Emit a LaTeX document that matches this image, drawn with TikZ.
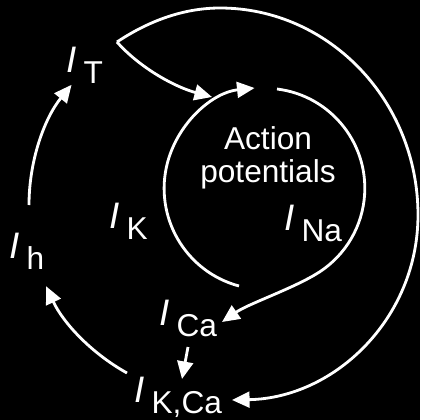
\documentclass[tikz,border=0pt]{standalone}
\usepackage{fontspec}
\setmainfont{Liberation Sans}
\usetikzlibrary{arrows.meta}
\tikzset{
  ciclo/.style={draw=white, line width=1.6pt},
  flecha/.style={ciclo, -{Triangle[length=10pt,width=9pt]}},
  corriente/.style={text=white, inner sep=0pt, anchor=base west,
                    font=\fontsize{18}{18}\selectfont},
  rotulo/.style={text=white, align=center, font=\fontsize{18}{19}\selectfont}
}
\newcommand{\corr}[1]{{\fontsize{21}{21}\selectfont\itshape I}\hspace{4pt}\raisebox{-6.5pt}{#1}}

\begin{document}
\begin{tikzpicture}[x=0.02cm, y=-0.02cm]
  \fill[black] (0,0) rectangle (420,420);
  \useasboundingbox (0,0) rectangle (420,420);

  % -- corrientes --
  \node[corriente] (it)   at (66,72)   {\corr{T}};
  \node[corriente] (ih)   at (9,258)   {\corr{h}};
  \node[corriente] (ik)   at (109,228) {\corr{K}};
  \node[corriente] (ina)  at (284,230) {\corr{Na}};
  \node[corriente] (ica)  at (159,325) {\corr{Ca}};
  \node[corriente] (ikca) at (134,402) {\corr{K,Ca}};
  \node[rotulo]    (ap)   at (268,158) {Action\\potentials};

  % -- extremos de los conectores --
  \coordinate (tpunta)    at (117,42);
  \coordinate (tap)       at (212,97);
  \coordinate (kcaentra)  at (232,400);
  \coordinate (hsale)     at (29,205);
  \coordinate (kcasale)   at (127,373);
  \coordinate (apsale)    at (239,286);
  \coordinate (apsigue)   at (277,89);
  \coordinate (caentra)   at (222,322);
  \coordinate (casale)    at (188,347);
  \coordinate (kcallega)  at (182,379);

  % -- ciclo interior --
  \draw[flecha] (apsale) arc[start angle=105, end angle=264, radius=101];
  \draw[flecha] (apsigue) arc[start angle=277, end angle=420, radius=100]
        .. controls (289,290) and (248,304) .. (caentra);
  \draw[flecha] (casale) -- (kcallega);

  % -- ciclo exterior --
  \draw[flecha] (tpunta) .. controls (140,68) and (175,87) .. (tap);
  \draw[flecha] (tpunta) .. controls (150,20) and (185,8) .. (220,8)
        .. controls (329,8) and (418,101) .. (418,215)
        .. controls (418,318) and (335,398) .. (kcaentra);
  \draw[flecha] (hsale) arc[start angle=180, end angle=219, radius=191];
  \draw[flecha] (kcasale) arc[start angle=119, end angle=155, radius=192];
\end{tikzpicture}
\end{document}
